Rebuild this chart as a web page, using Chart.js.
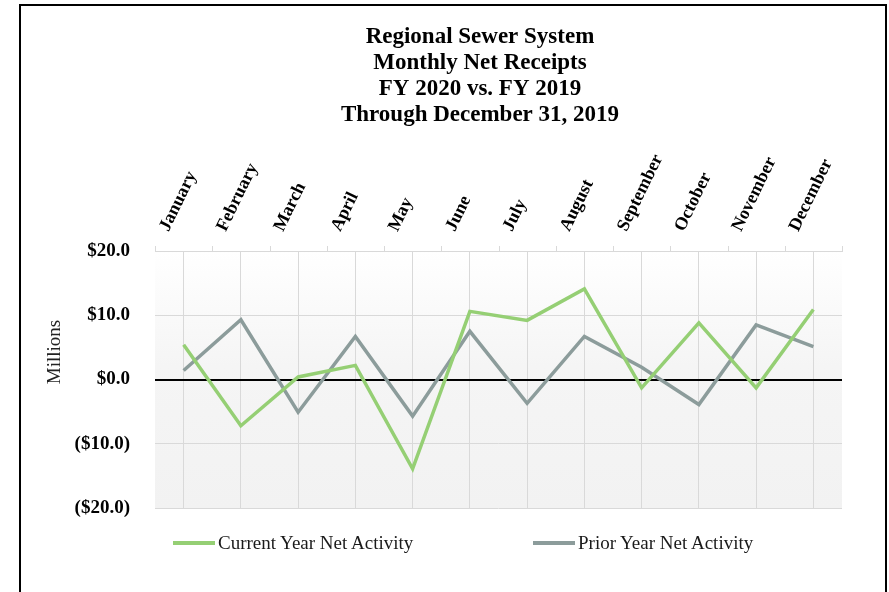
<!DOCTYPE html>
<html>
<head>
<meta charset="utf-8">
<script src="https://cdn.jsdelivr.net/npm/chart.js@4"></script>
<style>
  body { margin: 0; background: #fff; }
  #wrap { position: relative; width: 889px; height: 592px; }
  #frame { position: absolute; left: 19px; top: 4px; width: 864px; height: 587px;
           border: 2px solid #000; border-bottom: 1px solid #d9d9d9; pointer-events: none; }
  #legend { position: absolute; top: 532px; left: 0; font: 19px "Liberation Serif", serif; color: #1a1a1a; }
  .item { position: absolute; display: flex; align-items: center; white-space: nowrap; }
  .swatch { width: 42px; height: 4px; margin-right: 3px; }
</style>
</head>
<body>
<div id="wrap">
  <canvas id="myChart" width="889" height="592"></canvas>
  <div id="legend"></div>
  <div id="frame"></div>
</div>
<script>
const titleLines = ['Regional Sewer System', 'Monthly Net Receipts', 'FY 2020 vs. FY 2019', 'Through December 31, 2019'];
const months = ['January', 'February', 'March', 'April', 'May', 'June', 'July',
                'August', 'September', 'October', 'November', 'December'];
const currentYear = [5.4, -7.2, 0.4, 2.2, -13.9, 10.6, 9.2, 14.1, -1.3, 8.8, -1.3, 10.9];
const priorYear = [1.4, 9.3, -5.1, 6.7, -5.7, 7.5, -3.7, 6.7, 1.9, -3.9, 8.5, 5.1];
const yTicks = [-20, -10, 0, 10, 20];
const axisTitle = 'Millions';

const money = v => v < 0 ? '($' + Math.abs(v).toFixed(1) + ')' : '$' + v.toFixed(1);

// light gradient behind the plot
const plotBackground = {
    id: 'plotBackground',
    beforeDraw(chart) {
        const {ctx, chartArea: a} = chart;
        const g = ctx.createLinearGradient(0, a.top, 0, a.bottom);
        g.addColorStop(0, '#ffffff');
        g.addColorStop(0.45, '#f5f5f5');
        g.addColorStop(1, '#f2f2f2');
        ctx.save();
        ctx.fillStyle = g;
        ctx.fillRect(a.left, a.top, a.right - a.left, a.bottom - a.top);
        ctx.restore();
    }
};

// title block (off-centre like the original), short ticks between months, "Millions"
const extras = {
    id: 'extras',
    afterDraw(chart) {
        const {ctx, chartArea: a, scales: {x}} = chart;
        ctx.save();
        ctx.strokeStyle = '#d9d9d9';
        ctx.lineWidth = 1;
        for (let i = 0; i <= months.length; i++) {
            const px = Math.round(x.getPixelForValue(i - 0.5)) + 0.5;
            ctx.beginPath();
            ctx.moveTo(px, a.top - 5);
            ctx.lineTo(px, a.top);
            ctx.stroke();
        }
        ctx.fillStyle = '#000';
        ctx.textAlign = 'center';
        ctx.textBaseline = 'middle';
        ctx.font = 'bold 23px "Liberation Serif"';
        titleLines.forEach((t, i) => ctx.fillText(t, 480, 37 + 26 * i));

        ctx.translate(55, a.top + 101);
        ctx.rotate(-Math.PI / 2);
        ctx.font = '19px "Liberation Serif"';
        ctx.fillStyle = '#222';
        ctx.fillText(axisTitle, 0, 0);
        ctx.restore();
    }
};

const ctx = document.getElementById('myChart').getContext('2d');
const chart = new Chart(ctx, {
    type: 'line',
    data: {
        labels: months,
        datasets: [{
            label: 'Current Year Net Activity',
            data: currentYear,
            borderColor: '#95cf74',
            borderWidth: 3.5
        }, {
            label: 'Prior Year Net Activity',
            data: priorYear,
            borderColor: '#8c9c9b',
            borderWidth: 3.5
        }]
    },
    options: {
        responsive: false,
        animation: false,
        layout: { padding: { left: 0, right: 47, top: 128, bottom: 84 } },
        elements: { point: { radius: 0 }, line: { tension: 0 } },
        plugins: {
            legend: { display: false },
            tooltip: { enabled: false },
            title: { display: false }
        },
        scales: {
            x: {
                type: 'category',
                position: 'top',
                offset: true,
                grid: { offset: false, color: '#d9d9d9', drawTicks: false },
                border: { color: '#d9d9d9' },
                ticks: {
                    color: '#000',
                    font: { family: 'Liberation Serif', size: 18, weight: 'bold' },
                    minRotation: 64,
                    maxRotation: 64,
                    padding: 16,
                    autoSkip: false
                },
                afterFit: s => { s.height = 123; }
            },
            y: {
                min: -20,
                max: 20,
                afterBuildTicks: s => { s.ticks = yTicks.map(v => ({ value: v })); },
                grid: {
                    drawTicks: false,
                    color: c => c.tick.value === 0 ? '#000' : '#d9d9d9',
                    lineWidth: c => c.tick.value === 0 ? 2 : 1
                },
                border: { display: false },
                ticks: {
                    color: '#000',
                    font: { family: 'Liberation Serif', size: 19, weight: 'bold' },
                    padding: 25,
                    callback: v => money(v)
                },
                afterFit: s => { s.width = 155; }
            }
        }
    },
    plugins: [plotBackground, extras]
});

// legend laid out like the original, built from the datasets
const legendPos = [173, 533];
const legend = document.getElementById('legend');
chart.data.datasets.forEach((ds, i) => {
    const item = document.createElement('div');
    item.className = 'item';
    item.style.left = legendPos[i] + 'px';
    item.innerHTML = '<span class="swatch" style="background:' + ds.borderColor + '"></span>' + ds.label;
    legend.appendChild(item);
});
</script>
</body>
</html>
